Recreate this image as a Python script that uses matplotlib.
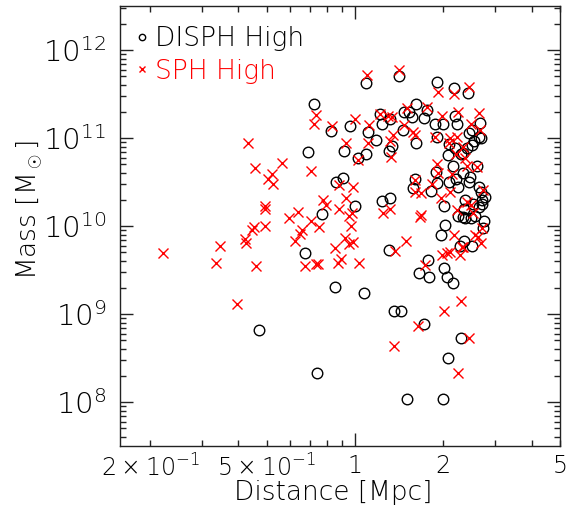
import matplotlib
matplotlib.use("Agg")
import matplotlib.pyplot as plt
from matplotlib.ticker import FixedLocator, FixedFormatter, LogLocator, NullFormatter

# Satellite galaxies: distance from host [Mpc] and mass [Msun]
disph_dist = [0.471, 0.676, 0.693, 0.727, 0.744, 0.772, 0.826, 0.857, 0.861, 0.908,
              0.920, 0.962, 1.0, 1.026, 1.076, 1.090, 1.090, 1.105, 1.179, 1.214,
              1.233, 1.306, 1.309, 1.320, 1.236, 1.316, 1.337, 1.362, 1.434, 1.409,
              1.454, 1.469, 1.528, 1.564, 1.508, 1.573, 1.601, 1.610, 1.614, 1.648,
              1.723, 1.719, 1.755, 1.773, 1.788, 1.811, 1.878, 1.898, 1.898, 1.893,
              1.904, 1.959, 1.990, 2.00, 2.011, 2.011, 2.032, 2.053, 2.070, 2.080,
              2.085, 2.097, 2.158, 2.163, 2.176, 2.193, 2.228, 2.216, 2.239, 2.239,
              2.274, 2.292, 2.292, 2.328, 2.340, 2.340, 2.347, 2.360, 2.377, 2.415,
              2.427, 2.440, 2.453, 2.466, 2.492, 2.499, 2.505, 2.518, 2.551, 2.571,
              2.612, 2.640, 2.640, 2.675, 2.681, 2.696, 2.703, 2.717, 2.725, 2.754,
              2.193, 2.499, 2.773, 2.654, 2.377]
disph_mass = [6.5e8, 4.95e9, 6.9e10, 2.41e11, 2.15e8, 1.37e10, 1.20e11, 2.05e9, 3.2e10, 3.5e10,
              7.1e10, 1.38e11, 1.68e10, 6.0e10, 1.72e9, 4.2e11, 6.5e10, 1.18e11, 9.55e10, 1.89e11,
              1.43e11, 5.3e9, 7.1e10, 1.63e11, 1.91e10, 2.09e10, 8.2e10, 1.08e9, 1.08e9, 5.06e11,
              1.24e11, 1.95e11, 1.99e11, 1.71e11, 1.07e8, 2.67e10, 3.4e10, 2.45e11, 8.8e10, 2.9e9,
              7.6e8, 1.67e11, 2.10e11, 4.1e9, 2.6e9, 2.53e10, 1.44e11, 4.36e11, 1.03e11, 4.1e10,
              3.1e10, 8.0e9, 1.46e11, 1.07e8, 3.3e9, 1.68e10, 1.02e10, 2.6e9, 6.4e10, 3.2e8,
              3.2e10, 8.45e10, 4.8e10, 2.27e9, 3.73e11, 1.76e11, 1.44e11, 3.4e10, 2.74e10, 1.29e10,
              5.9e9, 5.4e8, 6.6e10, 1.25e10, 6.7e10, 3.95e10, 6.7e9, 1.58e10, 1.97e10, 7.6e10,
              3.27e11, 1.13e11, 3.15e10, 3.56e10, 1.23e10, 5.9e9, 1.23e11, 1.80e10, 9.3e10, 1.29e10,
              4.8e10, 2.81e10, 1.03e11, 1.49e11, 2.45e10, 1.01e11, 1.97e10, 1.80e10, 9.4e9, 1.13e10,
              7.6e10, 8.3e10, 2.14e10, 1.65e10, 1.22e10]

sph_dist = [0.222, 0.335, 0.346, 0.397, 0.422, 0.424, 0.431, 0.444, 0.453, 0.455,
            0.460, 0.493, 0.493, 0.493, 0.504, 0.523, 0.524, 0.562, 0.594, 0.626,
            0.639, 0.651, 0.661, 0.673, 0.706, 0.706, 0.725, 0.738, 0.738, 0.748,
            0.754, 0.776, 0.796, 0.833, 0.853, 0.880, 0.880, 0.873, 0.898, 0.929,
            0.929, 0.925, 0.956, 0.951, 0.969, 0.974, 0.982, 0.987, 1.0, 1.026,
            1.029, 1.096, 1.105, 1.119, 1.217, 1.249, 1.299, 1.316, 1.316, 1.323,
            1.340, 1.351, 1.362, 1.373, 1.416, 1.488, 1.469, 1.508, 1.573, 1.597,
            1.601, 1.606, 1.644, 1.662, 1.679, 1.675, 1.733, 1.765, 1.835, 1.874,
            1.898, 1.914, 1.959, 1.975, 1.985, 2.017, 2.053, 2.085, 2.108, 2.108,
            2.141, 2.182, 2.182, 2.209, 2.222, 2.245, 2.250, 2.280, 2.292, 2.340,
            2.377, 2.403, 2.447, 2.447, 2.479, 2.486, 2.526, 2.558, 2.612, 2.654,
            2.668, 2.681, 2.710, 2.739, 2.403, 2.222, 2.31, 2.108, 2.634, 1.923,
            2.34]
sph_mass = [4.9e9, 3.8e9, 6.0e9, 1.3e9, 7.1e9, 6.4e9, 8.8e10, 9.1e9, 9.7e9, 4.6e10,
            3.55e9, 1.69e10, 1.55e10, 9.9e9, 3.4e10, 3.9e10, 3.0e10, 5.2e10, 1.23e10, 6.7e9,
            1.45e10, 8.2e9, 9.0e9, 3.55e9, 1.13e10, 4.2e10, 1.44e11, 1.81e11, 3.7e9, 3.7e9,
            9.7e9, 2.0e10, 1.75e10, 1.38e11, 5.6e9, 2.9e10, 1.58e10, 3.8e9, 4.2e9, 8.7e10,
            2.1e10, 7.4e9, 1.29e10, 6.3e9, 1.0e10, 1.42e10, 6.55e9, 2.8e10, 1.64e11, 5.6e10,
            3.8e9, 5.2e11, 8.7e10, 1.40e11, 1.85e11, 1.39e10, 1.79e11, 1.54e10, 9.2e10, 6.1e10,
            1.74e11, 1.08e11, 4.3e8, 5.2e9, 5.9e11, 6.8e9, 1.40e11, 2.17e11, 1.18e11, 3.3e10,
            1.08e11, 2.43e10, 7.4e8, 1.27e10, 2.4e10, 1.35e10, 3.6e9, 2.23e11, 3.0e10, 1.03e11,
            5.05e10, 3.36e11, 2.1e10, 4.65e9, 1.79e11, 1.08e9, 4.9e9, 8.7e10, 2.45e10, 5.1e9,
            3.9e10, 3.16e11, 7.9e9, 6.6e10, 1.03e11, 2.15e8, 1.99e11, 4.65e9, 1.41e9, 7.95e10,
            6.0e10, 4.8e10, 3.83e11, 5.4e8, 1.46e11, 1.71e10, 1.39e10, 7.8e9, 4.7e10, 1.90e11,
            1.23e11, 6.4e9, 9.4e9, 2.55e10, 1.88e10, 1.51e10, 5.8e9, 9.9e10, 7.5e9, 3.95e10,
            5.7e9]

x_limits = (0.158, 5.0)
y_limits = (10 ** 7.5, 10 ** 12.5)
x_label_vals = [0.2, 0.5, 2, 5]
x_label_text = [r"$\mathdefault{2\times10^{-1}}$", r"$\mathdefault{5\times10^{-1}}$", "2", "5"]
x_minor_vals = [0.2, 0.3, 0.4, 0.5, 0.6, 0.7, 0.8, 0.9, 2, 3, 4, 5]

plt.rcParams["font.family"] = ["DejaVu Sans"]
plt.rcParams["font.weight"] = "light"
plt.rcParams["axes.labelweight"] = "light"
plt.rcParams["mathtext.fontset"] = "custom"
plt.rcParams["mathtext.rm"] = "DejaVu Sans:light"
plt.rcParams["mathtext.it"] = "DejaVu Sans:italic:light"
plt.rcParams["mathtext.bf"] = "DejaVu Sans:bold"
plt.rcParams["mathtext.default"] = "rm"

fig = plt.figure(figsize=(5.87, 5.19), dpi=100)
ax = fig.add_axes([120 / 587, 73 / 519, 440 / 587, 440 / 519])
ax.set_xscale("log")
ax.set_yscale("log")

h_disph, = ax.plot(disph_dist, disph_mass, "o", mfc="none", mec="black", color="black",
                   ms=7.6, mew=1.0, label="DISPH High", zorder=2)
h_sph, = ax.plot(sph_dist, sph_mass, "x", color="red", ms=7, mew=1.0,
                 label="SPH High", zorder=3)

ax.set_xlim(*x_limits)
ax.set_ylim(*y_limits)

# x axis: long tick only at 1, short ticks elsewhere (some labelled)
ax.xaxis.set_major_locator(FixedLocator([1]))
ax.xaxis.set_major_formatter(FixedFormatter(["1"]))
ax.xaxis.set_minor_locator(FixedLocator(x_minor_vals))
minor_lbls = [x_label_text[x_label_vals.index(v)] if v in x_label_vals else "" for v in x_minor_vals]
ax.xaxis.set_minor_formatter(FixedFormatter(minor_lbls))

ax.yaxis.set_major_locator(LogLocator(base=10, numticks=20))
ax.yaxis.set_minor_locator(LogLocator(base=10, subs=range(2, 10), numticks=20))
ax.yaxis.set_minor_formatter(NullFormatter())

for a in ("x", "y"):
    ax.tick_params(axis=a, which="both", direction="in", top=True, right=True,
                   width=1.0, color="#222222")
ax.tick_params(which="major", length=9.5)
ax.tick_params(which="minor", length=4.5)
ax.tick_params(axis="y", which="major", labelsize=21, pad=10)
ax.tick_params(axis="x", which="both", labelsize=17, pad=6)

for s in ax.spines.values():
    s.set_linewidth(1.0)
    s.set_color("#222222")

ax.set_xlabel("Distance [Mpc]", fontsize=19, fontweight="light")
ax.set_ylabel(r"Mass [M$_\odot$]", fontsize=19, fontweight="light")
ax.xaxis.set_label_coords(0.485, -0.078)
ax.yaxis.set_label_coords(-0.17, 0.535)

leg = ax.legend(handles=[h_disph, h_sph], loc="upper left", bbox_to_anchor=(0.014, 0.972),
                frameon=False, fontsize=19, handlelength=0.6, handletextpad=0.2,
                borderaxespad=0.0, borderpad=0.3, labelspacing=0.28, markerscale=0.6,
                numpoints=1)
for t, c in zip(leg.get_texts(), ["black", "red"]):
    t.set_color(c)

fig.savefig("out.png", dpi=100)
